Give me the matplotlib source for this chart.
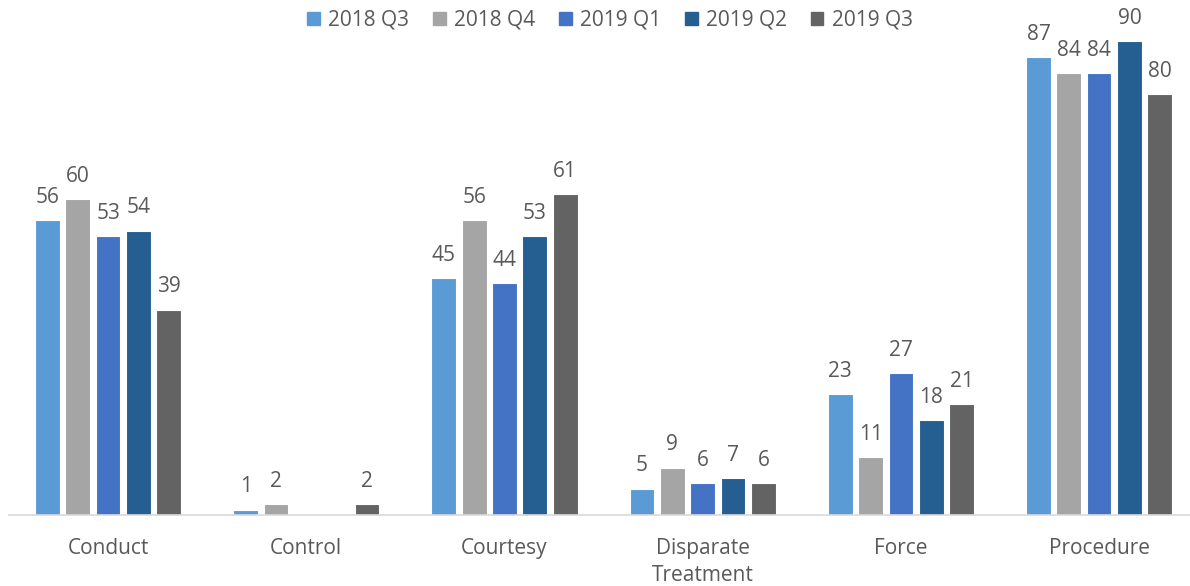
import numpy as np
import matplotlib.pyplot as plt
from matplotlib.patches import Patch

categories = ['Conduct', 'Control', 'Courtesy', 'Disparate\nTreatment', 'Force', 'Procedure']
series = ['2018 Q3', '2018 Q4', '2019 Q1', '2019 Q2', '2019 Q3']
values = {
    '2018 Q3': [56, 1, 45, 5, 23, 87],
    '2018 Q4': [60, 2, 56, 9, 11, 84],
    '2019 Q1': [53, 0, 44, 6, 27, 84],
    '2019 Q2': [54, 0, 53, 7, 18, 90],
    '2019 Q3': [39, 2, 61, 6, 21, 80],
}
colors = ['#5B9BD5', '#A5A5A5', '#4472C4', '#255E91', '#636363']

plt.rcParams['font.family'] = ['Open Sans', 'DejaVu Sans']
txt = '#595959'
fs = 15

fig = plt.figure(figsize=(11.9, 5.86), dpi=100)
ax = fig.add_axes([9 / 1190, 71 / 586, 1181 / 1190, 500 / 586])

x = np.arange(len(categories))
slot = 0.153
bw = 0.125
for i, (s, c) in enumerate(zip(series, colors)):
    pos = x + (i - 2) * slot
    v = values[s]
    ax.bar(pos, v, bw, color=c, edgecolor='white', linewidth=0.8, label=s)
    for p, val in zip(pos, v):
        if val > 0:
            ax.text(p, val + 3.3, str(val), ha='center', va='baseline',
                    fontsize=fs, color=txt)

ax.set_xlim(-0.5, -0.5 + 1181 / 198.2)
ax.set_ylim(0, 95)
ax.set_yticks([])
ax.set_xticks(x)
ax.set_xticklabels(categories, fontsize=fs, color=txt, linespacing=1.4)
ax.tick_params(axis='x', length=0, pad=16.5)
for sp in ['top', 'left', 'right']:
    ax.spines[sp].set_visible(False)
ax.spines['bottom'].set_color('#D9D9D9')
ax.spines['bottom'].set_linewidth(1.2)

handles = [Patch(color=c, label=s) for s, c in zip(series, colors)]
leg = fig.legend(handles=handles, loc='center', bbox_to_anchor=(610 / 1190, 1 - 20 / 586),
                 ncol=5, frameon=False, fontsize=fs, handlelength=0.6, handleheight=0.6,
                 handletextpad=0.4, columnspacing=1.15)
for t in leg.get_texts():
    t.set_color(txt)

fig.savefig('out.png', dpi=100)
